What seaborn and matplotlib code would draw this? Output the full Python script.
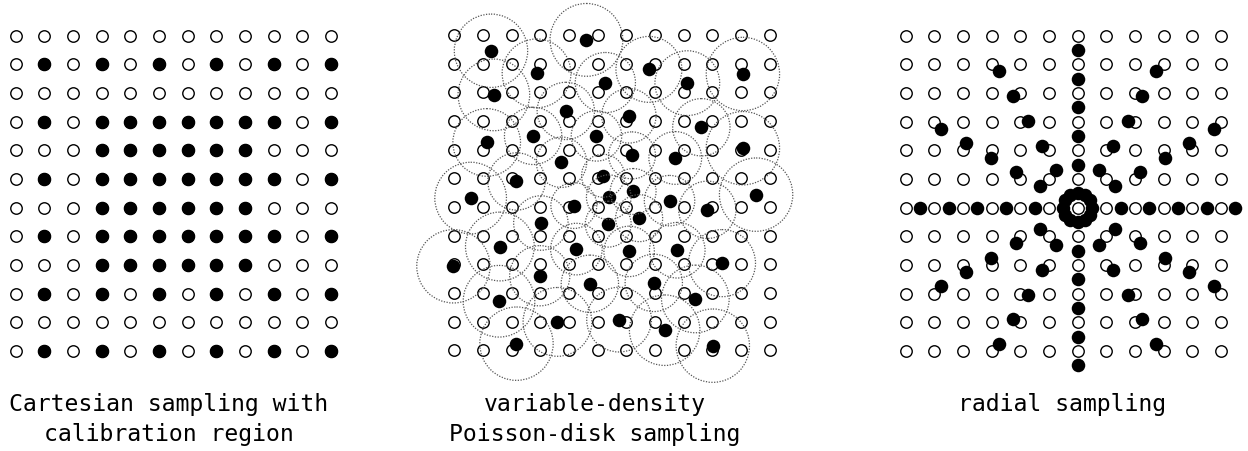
import numpy as np
import pandas as pd
import matplotlib
matplotlib.use("Agg")
import matplotlib.pyplot as plt
from matplotlib.patches import Circle
import seaborn as sns

# grid of k-space positions (12 x 12)
n_grid = 12

# cartesian sampling mask (x = sampled point)
cart_mask = [
    "............",
    ".x.x.x.x.x.x",
    "............",
    ".x.xxxxxxx.x",
    "...xxxxxx...",
    ".x.xxxxxxx.x",
    "...xxxxxx...",
    ".x.xxxxxxx.x",
    "...xxxxxx...",
    ".x.x.x.x.x.x",
    "............",
    ".x.x.x.x.x.x",
]

# poisson-disk samples (column, row) and disk radii, in grid units
pd_col = [1.28, 4.61, 2.87, 6.79, 10.07, 5.27, 8.13, 1.38, 3.89, 6.09, 8.62, 2.75,
          4.96, 1.13, 10.07, 6.20, 7.71, 3.74, 5.19, 2.17, 6.24, 0.57, 5.39, 10.53,
          4.17, 7.51, 8.83, 6.45, 3.02, 5.37, 1.59, 4.26, 6.10, 7.78, -0.03, 9.34,
          2.98, 4.73, 6.96, 1.56, 8.41, 3.60, 5.75, 7.34, 2.17, 9.02]
pd_row = [0.55, 0.17, 1.34, 1.20, 1.36, 1.66, 1.68, 2.09, 2.65, 2.82, 3.22, 3.52,
          3.52, 3.75, 3.95, 4.20, 4.29, 4.44, 4.91, 5.11, 5.46, 5.69, 5.66, 5.57,
          5.95, 5.78, 6.10, 6.39, 6.56, 6.60, 7.38, 7.47, 7.55, 7.51, 8.07, 7.96,
          8.40, 8.68, 8.65, 9.29, 9.21, 10.01, 9.93, 10.30, 10.77, 10.84]
pd_radius = [1.28, 1.27, 1.20, 1.15, 1.28, 1.05, 1.13, 1.25, 1.00, 0.95, 1.00, 1.00,
             0.88, 1.18, 1.28, 0.82, 0.92, 0.88, 0.75, 1.00, 0.80, 1.25, 0.78, 1.28,
             0.80, 0.88, 1.00, 0.82, 0.95, 0.80, 1.20, 0.90, 0.88, 0.97, 1.28, 1.17,
             1.05, 1.00, 1.00, 1.25, 1.18, 1.20, 1.13, 1.23, 1.28, 1.28]

# radial sampling: spoke angles (deg) and sample radii (grid units) around centre
radial_center = (6, 6)
spoke_angles = [0, 30, 60, 90, 120, 150, 180, 210, 240, 270, 300, 330]
spoke_radii = [0.5, 1.5, 2.5, 3.5, 4.5, 5.5]

titles = ["Cartesian sampling with\ncalibration region",
          "variable-density\nPoisson-disk sampling",
          "radial sampling"]

sns.set_style("white")
plt.rcParams["font.family"] = ["DejaVu Sans Mono"]

W, H = 1248, 451
fig = plt.figure(figsize=(W / 100, H / 100), dpi=100)

step = 28.66  # px per grid unit
lo, hi = -1.5, 12.5
size_px = (hi - lo) * step
grid_x0 = [15.7, 454.3, 905.7]
grid_y0 = [35.7, 35.0, 35.7]
label_x = [169, 595, 1062]

gx, gy = np.meshgrid(np.arange(n_grid), np.arange(n_grid))
grid_df = pd.DataFrame({"col": gx.ravel(), "row": gy.ravel()})

open_kw = dict(s=68, facecolor="white", edgecolor="black", linewidth=1.0, zorder=2)
fill_kw = dict(s=95, color="black", linewidth=0, zorder=3)

axes = []
for i in range(3):
    left = grid_x0[i] + lo * step
    top = grid_y0[i] + lo * step
    ax = fig.add_axes([left / W, 1 - (top + size_px) / H, size_px / W, size_px / H])
    ax.set_xlim(lo, hi)
    ax.set_ylim(hi, lo)
    ax.axis("off")
    sns.scatterplot(data=grid_df, x="col", y="row", ax=ax, **open_kw)
    axes.append(ax)

# left: cartesian
cart = pd.DataFrame([(c, r) for r, line in enumerate(cart_mask)
                     for c, ch in enumerate(line) if ch == "x"], columns=["col", "row"])
sns.scatterplot(data=cart, x="col", y="row", ax=axes[0], **fill_kw)

# middle: poisson disk
pois = pd.DataFrame({"col": pd_col, "row": pd_row, "r": pd_radius})
sns.scatterplot(data=pois, x="col", y="row", ax=axes[1], **fill_kw)
for _, p in pois.iterrows():
    axes[1].add_patch(Circle((p["col"], p["row"]), p["r"], fill=False,
                             edgecolor="#555555", linestyle=(0, (1, 1.2)),
                             linewidth=0.9, zorder=4, clip_on=False))

# right: radial
th = np.deg2rad(np.repeat(spoke_angles, len(spoke_radii)))
rr = np.tile(spoke_radii, len(spoke_angles))
rad = pd.DataFrame({"col": radial_center[0] + rr * np.cos(th),
                    "row": radial_center[1] + rr * np.sin(th)})
sns.scatterplot(data=rad, x="col", y="row", ax=axes[2], **fill_kw)

# labels below each panel
for i in range(3):
    for k, line in enumerate(titles[i].split("\n")):
        fig.text(label_x[i] / W, 1 - (411.5 + 29 * k) / H, line, ha="center",
                 va="baseline", fontsize=16.7, color="black")

fig.savefig("out.png", dpi=100)
